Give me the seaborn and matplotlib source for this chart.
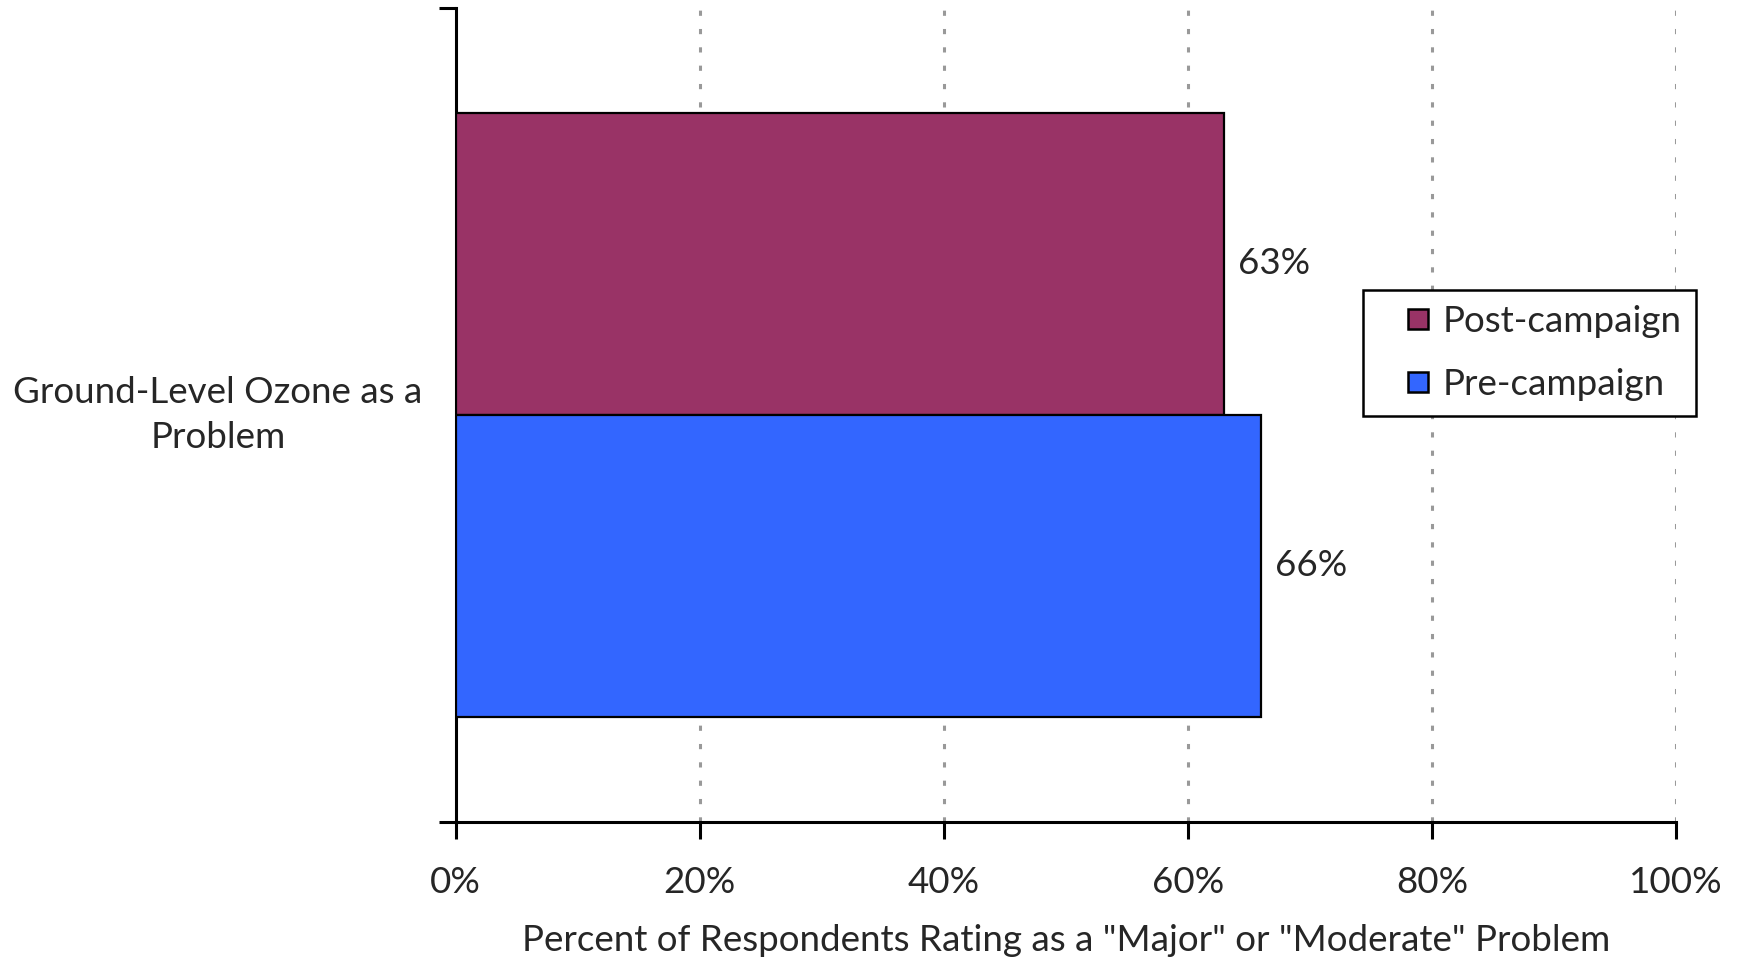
import matplotlib
matplotlib.use("Agg")
import matplotlib.pyplot as plt
import seaborn as sns
import pandas as pd
from matplotlib.lines import Line2D
from matplotlib.ticker import FuncFormatter, FixedLocator

# Survey results
categories = ["Ground-Level Ozone as a\nProblem"]
series_names = ["Post-campaign", "Pre-campaign"]
post_values = [63]
pre_values = [66]
x_ticks = [0, 20, 40, 60, 80, 100]
x_label = 'Percent of Respondents Rating as a "Major" or "Moderate" Problem'
colors = ["#993366", "#3366FF"]

df = pd.DataFrame({
    "category": categories * 2,
    "campaign": [series_names[0]] * len(categories) + [series_names[1]] * len(categories),
    "value": post_values + pre_values,
})

sns.set_theme(style="white")
plt.rcParams["font.family"] = ["Lato", "DejaVu Sans"]
FS = 26.5

fig = plt.figure(figsize=(17.38, 9.6), dpi=100)
ax = fig.add_axes([0.2621, 0.1438, 0.7022, 0.8479])

sns.barplot(data=df, y="category", x="value", hue="campaign",
            hue_order=series_names, palette=colors, orient="h",
            width=0.742, edgecolor="black", linewidth=1.6,
            saturation=1, ax=ax, zorder=3, legend=False)

ax.set_xlim(0, 100)
ax.set_ylim(0.5, -0.5)
ax.xaxis.set_major_locator(FixedLocator(x_ticks))
ax.xaxis.set_major_formatter(FuncFormatter(lambda v, p: f"{v:.0f}%"))

# dotted vertical gridlines
for t in x_ticks[1:]:
    ax.axvline(t, color="#999999", linestyle=(0, (1.7, 4.3)), linewidth=2.2,
               dash_capstyle="butt", zorder=1)

# spines
for s in ["top", "right"]:
    ax.spines[s].set_visible(False)
for s in ["left", "bottom"]:
    ax.spines[s].set_color("black")
    ax.spines[s].set_linewidth(2.2)

ax.tick_params(axis="x", direction="out", length=12, width=2.2, color="black",
               labelsize=FS, pad=20, bottom=True)
ax.tick_params(axis="y", which="major", length=0, labelsize=FS)
ax.set_yticks([-0.5, 0.5], minor=True)
ax.tick_params(axis="y", which="minor", direction="out", length=12, width=2.2,
               color="black", left=True)
for lbl in ax.get_yticklabels():
    lbl.set_horizontalalignment("center")
    lbl.set_verticalalignment("center")
    lbl.set_multialignment("center")
    lbl.set_linespacing(1.45)
ax.yaxis.set_tick_params(which="major", pad=171)

ax.set_ylabel("")
ax.set_xlabel(x_label, fontsize=FS, labelpad=18)

# value labels
for cont in ax.containers:
    ax.bar_label(cont, labels=[f"{v:.0f}%" for v in cont.datavalues],
                 padding=10, fontsize=FS)

# legend with small square swatches
handles = [Line2D([], [], linestyle="", marker="s", markersize=15,
                  markerfacecolor=c, markeredgecolor="black", markeredgewidth=1.8)
           for c in colors]
leg = ax.legend(handles, series_names,
                loc="upper left", bbox_to_anchor=(0.7436, 0.6536),
                borderaxespad=0, frameon=True, fancybox=False, framealpha=1,
                edgecolor="black", fontsize=FS, handlelength=2.19,
                handletextpad=-0.44, borderpad=0.4, labelspacing=0.83)
leg.get_frame().set_linewidth(1.8)

fig.savefig("out.png", dpi=100)
